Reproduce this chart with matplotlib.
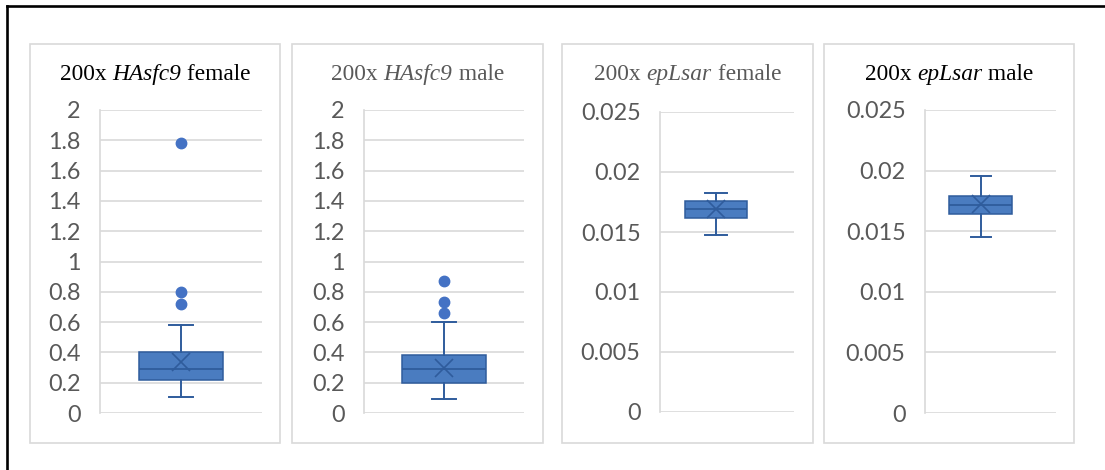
import matplotlib
matplotlib.use("Agg")
import matplotlib.pyplot as plt
from matplotlib.patches import Rectangle
from matplotlib.lines import Line2D
from matplotlib.ticker import MultipleLocator, FuncFormatter

# ---------------- data ----------------
title_parts = [("200x ", "HAsfc9", " female"), ("200x ", "HAsfc9", " male"),
               ("200x ", "epLsar", " female"), ("200x ", "epLsar", " male")]
title_colors = ["#000000", "#595959", "#595959", "#000000"]

# five-number summaries: whisker low, Q1, median, Q3, whisker high
hasfc9_female = [0.105, 0.218, 0.288, 0.405, 0.580]
hasfc9_male = [0.092, 0.200, 0.288, 0.383, 0.603]
eplsar_female = [0.01472, 0.01617, 0.01694, 0.01755, 0.01828]
eplsar_male = [0.01450, 0.01640, 0.01719, 0.01788, 0.01958]

means = [0.339, 0.300, 0.0169, 0.01724]

hasfc9_female_outliers = [0.72, 0.797, 1.78]
hasfc9_male_outliers = [0.658, 0.735, 0.873]
eplsar_female_outliers = []
eplsar_male_outliers = []

y_max = [2, 2, 0.025, 0.025]
y_step = [0.2, 0.2, 0.005, 0.005]

summaries = [hasfc9_female, hasfc9_male, eplsar_female, eplsar_male]
outliers = [hasfc9_female_outliers, hasfc9_male_outliers,
            eplsar_female_outliers, eplsar_male_outliers]

# ---------------- layout (pixels) ----------------
W, H = 1105, 470
fig = plt.figure(figsize=(W / 100, H / 100), dpi=100)
renderer = fig.canvas.get_renderer()

panels = [(30, 280), (292, 543), (562, 813), (824, 1074)]   # panel box x ranges
panel_y = (44, 443)
plot_areas = [(100, 262, 110, 413), (364, 524, 110, 413),
              (660, 794, 112, 412), (925, 1056, 110, 413)]
box_frac = [0.5, 0.5, 0.418, 0.427]      # box centre as fraction of plot width
box_w = [0.52, 0.52, 0.46, 0.48]
cap_w = [0.15, 0.15, 0.16, 0.155]

fill = "#4A7CC0"
edge = "#2F5C9C"
grid_c = "#D9D9D9"
tick_c = "#595959"
title_size = 16.8


def fx(px):
    return px / W


def fy(py):
    return 1 - py / H


def draw_title(cx, cy, parts, color):
    styles = ["normal", "italic", "normal"]
    widths = []
    for p, st in zip(parts, styles):
        t = fig.text(0, 0, p, fontsize=title_size, family="Liberation Serif",
                     style=st)
        widths.append(t.get_window_extent(renderer).width)
        t.remove()
    x = cx * W - sum(widths) / 2
    for p, st, w in zip(parts, styles, widths):
        fig.text(x / W, cy, p, fontsize=title_size, family="Liberation Serif",
                 style=st, color=color, ha="left", va="baseline")
        x += w


# outer black frame (top and left)
fig.add_artist(Line2D([fx(7), fx(W)], [fy(6), fy(6)], color="black", lw=1.9,
                      transform=fig.transFigure))
fig.add_artist(Line2D([fx(7), fx(7)], [fy(6), fy(H)], color="black", lw=1.9,
                      transform=fig.transFigure))

for i in range(4):
    x0, x1 = panels[i]
    fig.add_artist(Rectangle((fx(x0), fy(panel_y[1])), fx(x1 - x0),
                             (panel_y[1] - panel_y[0]) / H, fill=False,
                             edgecolor=grid_c, lw=1.2, transform=fig.transFigure))
    draw_title(fx((x0 + x1) / 2), fy(80), title_parts[i], title_colors[i])

    ax0, ax1, ay0, ay1 = plot_areas[i]
    ax = fig.add_axes([fx(ax0), fy(ay1), fx(ax1 - ax0), (ay1 - ay0) / H])
    s = summaries[i]
    stats = [dict(whislo=s[0], q1=s[1], med=s[2], q3=s[3], whishi=s[4],
                  mean=means[i], fliers=outliers[i])]
    ax.bxp(stats, positions=[1], widths=box_w[i], capwidths=cap_w[i],
           patch_artist=True, showmeans=True, showfliers=True,
           boxprops=dict(facecolor=fill, edgecolor=edge, lw=1.1),
           whiskerprops=dict(color=edge, lw=1.4),
           capprops=dict(color=edge, lw=1.4),
           medianprops=dict(color=edge, lw=1.3),
           meanprops=dict(marker="x", markersize=13, markeredgecolor=edge,
                          markeredgewidth=1.2),
           flierprops=dict(marker="o", markersize=7.5, markerfacecolor="#4472C4",
                           markeredgecolor="#4472C4"))
    c = box_frac[i]
    ax.set_xlim(1 - c, 1 + (1 - c))
    ax.set_ylim(0, y_max[i])
    ax.yaxis.set_major_locator(MultipleLocator(y_step[i]))
    ax.yaxis.set_major_formatter(FuncFormatter(lambda v, p: f"{v:.4g}"))
    ax.set_xticks([])
    ax.grid(axis="y", color=grid_c, lw=1.2)
    ax.set_axisbelow(True)
    for sp in ["top", "right", "bottom"]:
        ax.spines[sp].set_visible(False)
    ax.spines["left"].set_color(grid_c)
    ax.spines["left"].set_linewidth(1.2)
    ax.tick_params(axis="y", length=0, pad=14, labelsize=16.8, labelcolor=tick_c)
    for lab in ax.get_yticklabels():
        lab.set_family("Lato")
    ax.patch.set_alpha(0)

fig.savefig("out.png", dpi=100)
